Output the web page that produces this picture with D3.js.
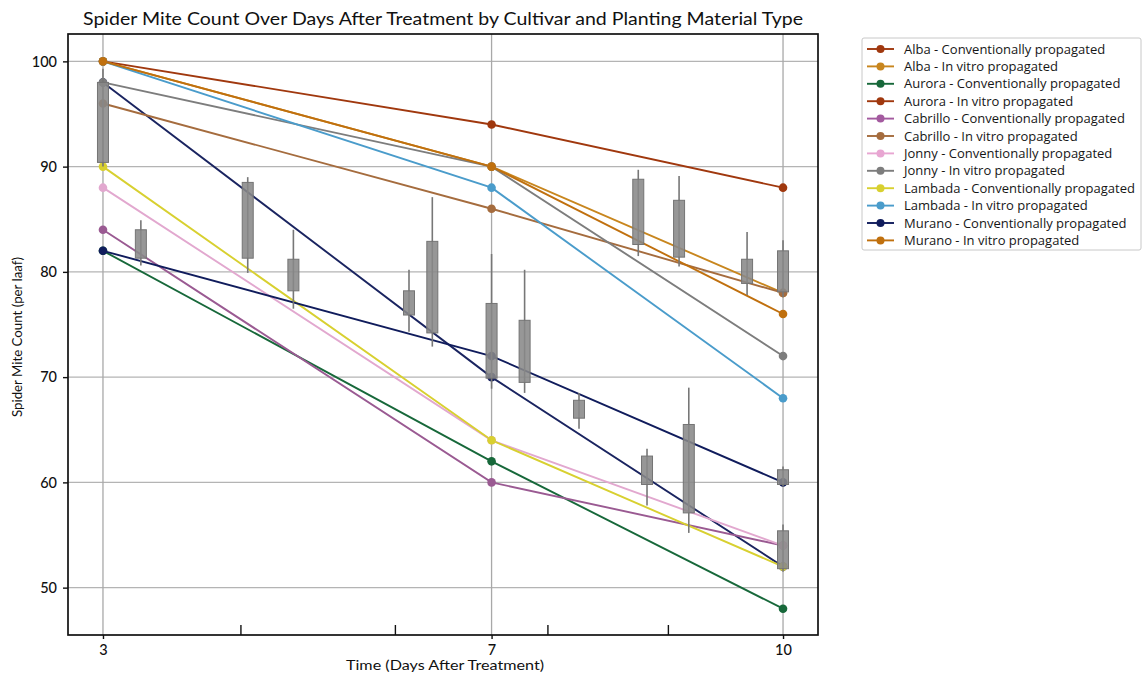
<!DOCTYPE html>
<html><head><meta charset="utf-8">
<script src="https://cdn.jsdelivr.net/npm/d3@7"></script>
<style>body{margin:0;background:#fff}svg{display:block}</style>
</head><body><svg id="c" width="1143" height="675" font-family="Lato, 'Open Sans', sans-serif"></svg>
<script>
const days = [3, 7, 10];
const seriesNames = [
  "Alba - Conventionally propagated","Alba - In vitro propagated",
  "Aurora - Conventionally propagated","Aurora - In vitro propagated",
  "Cabrillo - Conventionally propagated","Cabrillo - In vitro propagated",
  "Jonny - Conventionally propagated","Jonny - In vitro propagated",
  "Lambada - Conventionally propagated","Lambada - In vitro propagated",
  "Murano - Conventionally propagated","Murano - In vitro propagated"];
const seriesValues = [
  [100, 94, 88],
  [100, 90, 78],
  [82, 62, 48],
  [98, 70, 52],
  [84, 60, 54],
  [96, 86, 78],
  [88, 64, 54],
  [98, 90, 72],
  [90, 64, 52],
  [100, 88, 68],
  [82, 72, 60],
  [100, 90, 76]];
const legendColors = ["#a0380e","#c8861e","#17683a","#a0380e","#a35a9f","#a56c3e","#e8a6d2","#7d7d7d","#d8d030","#4a9ccb","#101c5c","#c0700e"];
const lineColors   = ["#a0380e","#c8861e","#17683a","#1a2460","#9a5a92","#a56c3e","#e2a8cf","#7d7d7d","#d8d030","#4a9ccb","#101c5c","#c0700e"];
// boxes: [day, whiskerLow, q1, q3, whiskerHigh]
const boxes = [
  [3.00, 90.0, 90.4, 98.0, 99.3],
  [3.39, 80.6, 81.3, 84.0, 84.9],
  [4.49, 79.9, 81.3, 88.5, 89.0],
  [4.96, 76.5, 78.2, 81.2, 84.0],
  [6.15, 74.3, 75.9, 78.2, 80.2],
  [6.39, 72.9, 74.2, 82.9, 87.1],
  [7.00, 68.9, 69.9, 77.0, 81.7],
  [7.34, 68.5, 69.5, 75.4, 80.2],
  [7.90, 65.1, 66.1, 67.8, 68.5],
  [8.51, 81.5, 82.6, 88.8, 89.7],
  [8.93, 80.5, 81.4, 86.8, 89.1],
  [9.63, 77.8, 78.9, 81.2, 83.8],
  [10.0, 77.6, 78.1, 82.0, 83.0],
  [8.60, 57.8, 59.8, 62.5, 63.2],
  [9.03, 55.2, 57.1, 65.5, 69.0],
  [10.0, 59.6, 59.8, 61.2, 61.5],
  [10.0, 51.5, 51.8, 55.4, 56.0]];
const yTicks = [50, 60, 70, 80, 90, 100];
const xTicks = [3, 7, 10];
const xMinorTicks = [4.42, 6.01, 7.58, 8.82];
const title = "Spider Mite Count Over Days After Treatment by Cultivar and Planting Material Type";
const xLabel = "Time (Days After Treatment)";
const yLabel = "Spider Mite Count (per laaf)";

const svg = d3.select("#c");
const L = 68, R = 818, T = 34, B = 635;
const x = d3.scaleLinear().domain([2.64, 10.36]).range([L, R]);
const y = d3.scaleLinear().domain([45.5, 102.6]).range([B, T]);

// grid
const g = svg.append("g");
g.selectAll(".gy").data(yTicks).join("line")
  .attr("x1", L).attr("x2", R).attr("y1", d => y(d)).attr("y2", d => y(d))
  .attr("stroke", "#b4b4b4").attr("stroke-width", 1.3);
g.selectAll(".gx").data(xTicks).join("line")
  .attr("y1", T).attr("y2", B).attr("x1", d => x(d)).attr("x2", d => x(d))
  .attr("stroke", "#a8a8a8").attr("stroke-width", 1.3);

// lines
const line = d3.line().x((d, i) => x(days[i])).y(d => y(d));
svg.append("g").selectAll("path").data(seriesValues).join("path")
  .attr("d", d => line(d)).attr("fill", "none")
  .attr("stroke", (d, i) => lineColors[i]).attr("stroke-width", 1.9);
svg.append("g").selectAll("g").data(seriesValues).join("g")
  .each(function(vals, i) {
    d3.select(this).selectAll("circle").data(vals).join("circle")
      .attr("cx", (d, j) => x(days[j])).attr("cy", d => y(d)).attr("r", 4.3)
      .attr("fill", lineColors[i]);
  });

// boxes
const bw = 11;
const bg = svg.append("g");
boxes.forEach(b => {
  const cx = x(b[0]);
  bg.append("line").attr("x1", cx).attr("x2", cx).attr("y1", y(b[4])).attr("y2", y(b[1]))
    .attr("stroke", "#777").attr("stroke-width", 1.6);
  bg.append("rect").attr("x", cx - bw / 2).attr("width", bw)
    .attr("y", y(b[3])).attr("height", y(b[2]) - y(b[3]))
    .attr("fill", "#898989").attr("fill-opacity", 0.88)
    .attr("stroke", "#747474").attr("stroke-width", 1);
});

// frame
svg.append("rect").attr("x", L).attr("y", T).attr("width", R - L).attr("height", B - T)
  .attr("fill", "none").attr("stroke", "#111").attr("stroke-width", 1.7);

// axes
const ay = svg.append("g").attr("transform", `translate(${L},0)`)
  .call(d3.axisLeft(y).tickValues(yTicks).tickSize(5).tickPadding(6).tickFormat(d3.format("d")));
ay.select(".domain").remove();
ay.attr("font-family", "Lato").attr("font-size", 14.5);
ay.selectAll("text").attr("fill", "#111").attr("font-weight", 500);
ay.selectAll("line").attr("stroke", "#111").attr("stroke-width", 1.4);

const ax = svg.append("g").attr("transform", `translate(0,${B})`)
  .call(d3.axisBottom(x).tickValues(xTicks).tickSize(4).tickPadding(6).tickFormat(d3.format("d")));
ax.select(".domain").remove();
ax.attr("font-family", "Lato").attr("font-size", 14.5);
ax.selectAll("text").attr("fill", "#111").attr("font-weight", 500);
ax.selectAll("line").attr("stroke", "#111").attr("stroke-width", 1.4);

svg.append("g").selectAll("line").data(xMinorTicks).join("line")
  .attr("x1", d => x(d)).attr("x2", d => x(d)).attr("y1", B).attr("y2", B - 10)
  .attr("stroke", "#111").attr("stroke-width", 1.4);

// titles
svg.append("text").attr("x", (L + R) / 2).attr("y", 25).attr("text-anchor", "middle")
  .attr("font-size", 16.5).attr("fill", "#111").attr("textLength", 720).attr("lengthAdjust", "spacingAndGlyphs")
  .text(title);
svg.append("text").attr("x", 445).attr("y", 670).attr("text-anchor", "middle")
  .attr("font-size", 13.5).attr("fill", "#111").attr("textLength", 198).attr("lengthAdjust", "spacingAndGlyphs")
  .text(xLabel);
svg.append("text").attr("transform", "translate(22,337) rotate(-90)").attr("text-anchor", "middle")
  .attr("font-size", 12.5).attr("fill", "#111").attr("textLength", 160).attr("lengthAdjust", "spacingAndGlyphs")
  .text(yLabel);

// legend
const lg = svg.append("g");
lg.append("rect").attr("x", 862).attr("y", 38).attr("width", 279).attr("height", 212)
  .attr("fill", "#fff").attr("stroke", "#c8c8c8").attr("stroke-width", 1).attr("rx", 2);
seriesNames.forEach((n, i) => {
  const yy = 49 + i * 17.4;
  lg.append("line").attr("x1", 867).attr("x2", 894).attr("y1", yy).attr("y2", yy)
    .attr("stroke", legendColors[i]).attr("stroke-width", 1.9);
  lg.append("circle").attr("cx", 880.5).attr("cy", yy).attr("r", 4).attr("fill", legendColors[i]);
  lg.append("text").attr("x", 904).attr("y", yy + 4.5).attr("font-size", 13)
    .attr("font-family", "'Open Sans', sans-serif").attr("fill", "#161616").text(n);
});
</script></body></html>
